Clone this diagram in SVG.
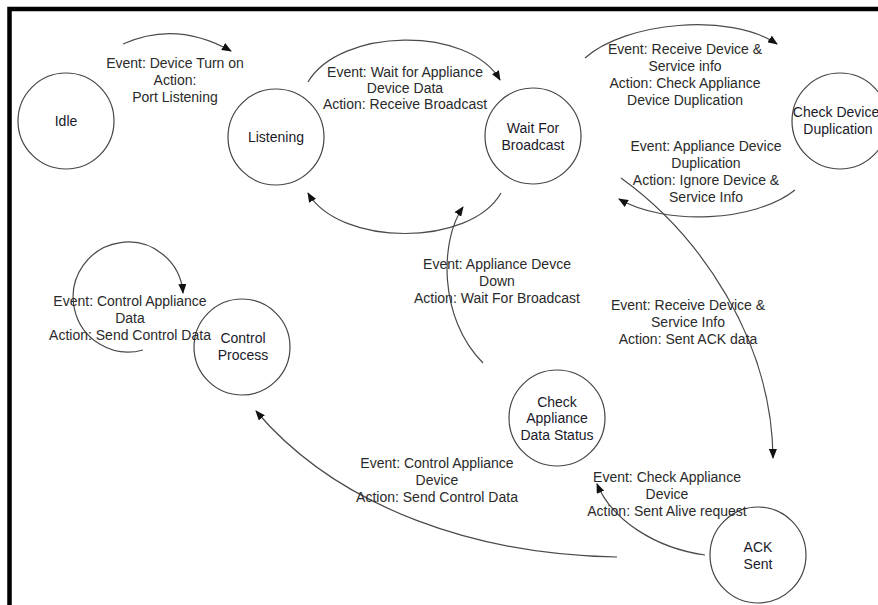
<svg xmlns="http://www.w3.org/2000/svg" width="878" height="605" viewBox="0 0 878 605">
<defs>
<style>
.node circle{fill:none;stroke:#444;stroke-width:1.2}
.node text{font-family:"Liberation Sans",Arial,sans-serif;font-size:14px;fill:#1a1a2a;text-anchor:middle}
.lbl text{font-family:"Liberation Sans",Arial,sans-serif;font-size:14px;fill:#2a2a2a;text-anchor:middle}
.edge{fill:none;stroke:#4a4a4a;stroke-width:1.2;marker-end:url(#arr)}
</style>
<marker id="arr" markerUnits="userSpaceOnUse" markerWidth="10" markerHeight="8" refX="9" refY="4" orient="auto">
<path d="M0,0 L10,4 L0,8 z" fill="#111"/>
</marker>
</defs>
<rect width="878" height="605" fill="#fff"/>
<path d="M9.5,605 V9 H878" fill="none" stroke="#000" stroke-width="4.5"/>

<g id="connectors">
<path class="edge" d="M123,44 Q176,20 231,51"/>
<path class="edge" d="M308,82 C340,28 468,25 500,80"/>
<path class="edge" d="M501,193 C470,247 340,247 308,193"/>
<path class="edge" d="M585,58 C625,22 730,12 777,44"/>
<path class="edge" d="M795,190 C755,222 665,226 619,199"/>
<path class="edge" d="M621,178 C700,235 772,340 773,458"/>
<path class="edge" d="M705,555 C655,548 612,520 597,484"/>
<path class="edge" d="M617,557 C480,555 340,510 256,411"/>
<path class="edge" d="M483,363 C438,318 440,240 463,207"/>
<path class="edge" d="M143,350 A55,55 0 1 1 183,293"/>
</g>

<g id="idle" class="node"><circle cx="66" cy="121" r="48"/><text x="66" y="126">Idle</text></g>
<g id="listening" class="node"><circle cx="276" cy="137" r="48"/><text x="276" y="142">Listening</text></g>
<g id="wait-for-broadcast" class="node"><circle cx="533" cy="136" r="48"/><text x="533" y="133">Wait For</text><text x="533" y="150">Broadcast</text></g>
<g id="check-device-duplication" class="node"><circle cx="840" cy="121" r="48"/><text x="836" y="117">Check Device</text><text x="838" y="134">Duplication</text></g>
<g id="control-process" class="node"><circle cx="242" cy="347" r="48"/><text x="243" y="343">Control</text><text x="243" y="360">Process</text></g>
<g id="check-appliance-data-status" class="node"><circle cx="557" cy="418" r="48"/><text x="557" y="407">Check</text><text x="557" y="423">Appliance</text><text x="557" y="440">Data Status</text></g>
<g id="ack-sent" class="node"><circle cx="758" cy="555" r="48"/><text x="758" y="552">ACK</text><text x="758" y="569">Sent</text></g>

<g id="labels" class="lbl">
<text x="175" y="68">Event: Device Turn on</text>
<text x="175" y="85">Action:</text>
<text x="175" y="102">Port Listening</text>
<text x="405" y="77">Event: Wait for Appliance</text>
<text x="405" y="93">Device Data</text>
<text x="405" y="109">Action: Receive Broadcast</text>
<text x="685" y="54">Event: Receive Device &amp;</text>
<text x="685" y="71">Service info</text>
<text x="685" y="88">Action: Check Appliance</text>
<text x="685" y="105">Device Duplication</text>
<text x="706" y="151">Event: Appliance Device</text>
<text x="706" y="168">Duplication</text>
<text x="706" y="185">Action: Ignore Device &amp;</text>
<text x="706" y="202">Service Info</text>
<text x="130" y="306">Event: Control Appliance</text>
<text x="130" y="323">Data</text>
<text x="130" y="340">Action: Send Control Data</text>
<text x="497" y="269">Event: Appliance Devce</text>
<text x="497" y="286">Down</text>
<text x="497" y="303">Action: Wait For Broadcast</text>
<text x="688" y="310">Event: Receive Device &amp;</text>
<text x="688" y="327">Service Info</text>
<text x="688" y="344">Action: Sent ACK data</text>
<text x="437" y="468">Event: Control Appliance</text>
<text x="437" y="485">Device</text>
<text x="437" y="502">Action: Send Control Data</text>
<text x="667" y="482">Event: Check Appliance</text>
<text x="667" y="499">Device</text>
<text x="667" y="516">Action: Sent Alive request</text>
</g>
</svg>
